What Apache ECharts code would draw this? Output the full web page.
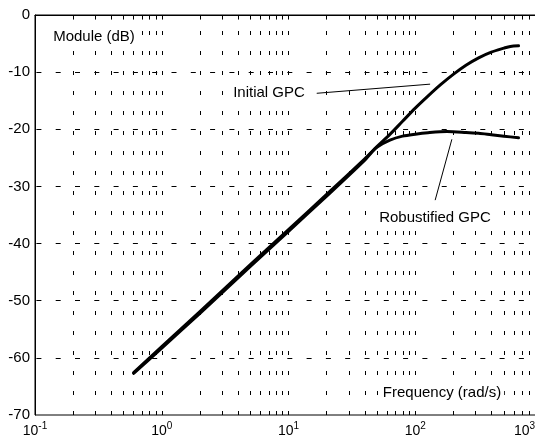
<!DOCTYPE html>
<html>
<head>
<meta charset="utf-8">
<title>Module (dB)</title>
<script src="https://cdn.jsdelivr.net/npm/echarts@6/dist/echarts.min.js"></script>
<style>
  html, body { margin: 0; padding: 0; background: #fff; }
  #chart { width: 535px; height: 439px; }
</style>
</head>
<body>
<div id="chart"></div>
<script>
// curves (frequency in rad/s, module in dB)
var freqInitial = [0.6, 1, 2, 5, 10, 20, 39.8, 50.1, 63.1, 79.4, 100, 125.9, 158.5, 199.5, 251.2, 316.2, 398.1, 501.2, 562.3, 653];
var dbInitial = [-62.6, -58.05, -51.9, -43.7, -37.55, -31.4, -25.2, -23.0, -20.9, -18.6, -16.3, -14.2, -12.2, -10.4, -8.8, -7.5, -6.5, -5.8, -5.5, -5.4];
var freqRobust = [0.6, 1, 2, 5, 10, 20, 39.8, 45.4, 50.1, 63.1, 79.4, 100, 125.9, 177.8, 251.2, 316.2, 398.1, 501.2, 653];
var dbRobust = [-62.7, -58.3, -52.2, -44.0, -37.85, -31.7, -25.45, -24.0, -23.1, -21.9, -21.2, -20.85, -20.6, -20.4, -20.55, -20.7, -20.95, -21.2, -21.5];

// pointer lines of the two annotations
var initialPointer = [[16.7, -13.7], [131, -12.1]];
var robustPointer = [[143.6, -32.4], [194.5, -21.75]];

// axes
var decades = [0.1, 1, 10, 100];
var multipliers = [1, 2, 3, 4, 5, 6, 7, 8, 9];
var yTicks = [-60, -50, -40, -30, -20, -10];
var xMin = 0.1, xMax = 1000, yMin = -70, yMax = 0;

var FONT = 'Arial, "Liberation Sans", sans-serif';

function pairs(xs, ys) {
  var out = [];
  for (var i = 0; i < xs.length; i++) out.push([xs[i], ys[i]]);
  return out;
}

// grid lines and ticks (MATLAB style dotted grid)
var gridLines = [];
var tickLines = [];
decades.forEach(function (d) {
  multipliers.forEach(function (m) {
    var f = d * m;
    if (f <= xMin * 1.0001) return;
    gridLines.push([{ coord: [f, yMin] }, { coord: [f, yMax], lineStyle: { type: [4, 16] } }]);
    tickLines.push([{ coord: [f, yMin] }, { coord: [f, yMin + 0.7] }]);
    tickLines.push([{ coord: [f, yMax] }, { coord: [f, yMax - 0.8] }]);
  });
});
yTicks.forEach(function (v) {
  gridLines.push([{ coord: [xMin, v], lineStyle: { type: [5, 14.3], dashOffset: 17.9 } }, { coord: [xMax, v] }]);
});

var chart = echarts.init(document.getElementById('chart'));
chart.setOption({
  animation: false,
  backgroundColor: '#fff',
  grid: {
    left: 35, top: 15, bottom: 24, right: -7,
    containLabel: false,
    outerBoundsMode: 'none',
    show: true, borderColor: '#000', borderWidth: 1
  },
  xAxis: {
    type: 'log', logBase: 10, min: xMin, max: xMax,
    axisLine: { show: true, lineStyle: { color: '#000', width: 1 } },
    axisTick: { show: false },
    splitLine: { show: false },
    axisLabel: {
      margin: 6,
      color: '#000',
      formatter: function (v) {
        var e = Math.round(Math.log10(v));
        return '{b|10}{s|' + e + '}' + (e === 3 ? '{p| }' : '');
      },
      rich: {
        b: { fontSize: 14, fontFamily: FONT, color: '#000', padding: [3, 0, 0, 0], verticalAlign: 'bottom' },
        s: { fontSize: 10, fontFamily: FONT, color: '#000', verticalAlign: 'top' },
        p: { width: 35 }
      }
    }
  },
  yAxis: {
    type: 'value', min: yMin, max: yMax, interval: 10,
    axisLine: { show: true, lineStyle: { color: '#000', width: 1 } },
    axisTick: { show: false },
    splitLine: { show: false },
    axisLabel: { margin: 5, color: '#000', fontSize: 15, fontFamily: FONT }
  },
  graphic: [
    { type: 'text', x: 94, y: 37, z: 100, style: { text: 'Module (dB)', font: '15px ' + FONT, fill: '#000', align: 'center', verticalAlign: 'middle', backgroundColor: '#fff', padding: [2, 3] } },
    { type: 'text', x: 269, y: 93, z: 100, style: { text: 'Initial GPC', font: '15px ' + FONT, fill: '#000', align: 'center', verticalAlign: 'middle', backgroundColor: '#fff', padding: [2, 3] } },
    { type: 'text', x: 435, y: 218, z: 100, style: { text: 'Robustified GPC', font: '15px ' + FONT, fill: '#000', align: 'center', verticalAlign: 'middle', backgroundColor: '#fff', padding: [2, 3] } },
    { type: 'text', x: 442, y: 393, z: 100, style: { text: 'Frequency (rad/s)', font: '15px ' + FONT, fill: '#000', align: 'center', verticalAlign: 'middle', backgroundColor: '#fff', padding: [2, 3] } }
  ],
  series: [
    {
      name: 'grid',
      type: 'line',
      z: 1,
      data: [[1, yMin]],
      showSymbol: false,
      lineStyle: { opacity: 0 },
      silent: true,
      markLine: {
        silent: true,
        symbol: 'none',
        animation: false,
        label: { show: false },
        lineStyle: { color: '#000', width: 1, type: 'solid' },
        data: gridLines.concat(tickLines)
      }
    },
    {
      name: 'pointers',
      type: 'line',
      z: 2,
      data: [[1, yMin]],
      showSymbol: false,
      lineStyle: { opacity: 0 },
      silent: true,
      markLine: {
        silent: true,
        symbol: 'none',
        animation: false,
        label: { show: false },
        lineStyle: { color: '#000', width: 1, type: 'solid' },
        data: [
          [{ coord: initialPointer[0] }, { coord: initialPointer[1] }],
          [{ coord: robustPointer[0] }, { coord: robustPointer[1] }]
        ]
      }
    },
    {
      name: 'Initial GPC',
      type: 'line',
      z: 5,
      data: pairs(freqInitial, dbInitial),
      smooth: 0.3,
      showSymbol: false,
      lineStyle: { color: '#000', width: 3, cap: 'round', join: 'round' }
    },
    {
      name: 'Robustified GPC',
      type: 'line',
      z: 5,
      data: pairs(freqRobust, dbRobust),
      smooth: 0.3,
      showSymbol: false,
      lineStyle: { color: '#000', width: 3, cap: 'round', join: 'round' }
    }
  ]
});
</script>
</body>
</html>
